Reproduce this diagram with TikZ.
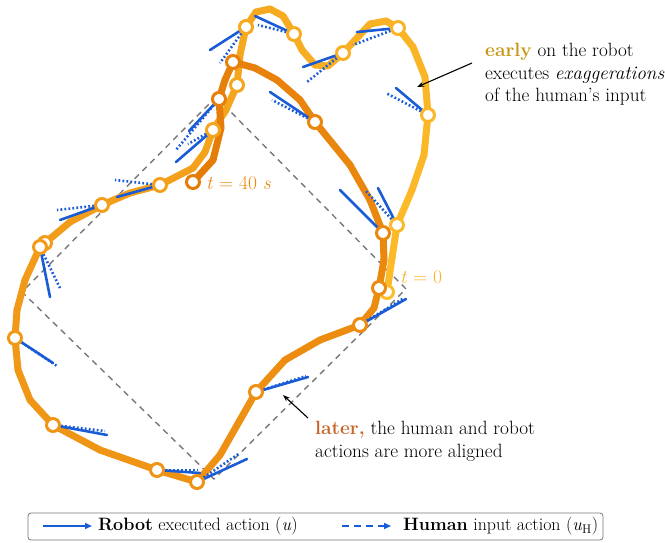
\documentclass[tikz,border=0pt]{standalone}
\usepackage{fontspec}
\setmainfont{Latin Modern Roman}
\usetikzlibrary{arrows.meta}
\definecolor{yl}{RGB}{253,188,42}
\definecolor{dk}{RGB}{230,124,8}
\definecolor{ab}{RGB}{26,92,214}
\definecolor{dg}{RGB}{120,120,120}
\definecolor{earlyc}{RGB}{200,150,20}
\definecolor{laterc}{RGB}{200,100,40}
\tikzset{
  traj/.style={line width=7pt, line cap=round, line join=round},
  mk/.style={circle, minimum size=13pt, inner sep=0pt, line width=3pt, fill=white},
  act/.style={draw=ab, line width=2.6pt, line cap=round},
  hdot/.style={draw=ab, line width=2.6pt, dash pattern=on 1.8pt off 2.2pt},
  gdash/.style={draw=dg, line width=1.4pt, dash pattern=on 6pt off 5pt},
  note/.style={align=left, font=\fontsize{19.2}{22.7}\selectfont, inner sep=0pt},
  callout/.style={-{Stealth[length=7pt,width=5pt]}, line width=1.1pt, black},
  legtext/.style={anchor=west, font=\fontsize{17.9}{18}\selectfont, inner sep=0pt},
  tlabel/.style={font=\fontsize{19.5}{20}\selectfont, anchor=west, inner sep=0pt},
}
\begin{document}
\begin{tikzpicture}[x=1pt,y=-1pt]
\useasboundingbox (0,0) rectangle (665,542);
% dashed square
\coordinate (sqT) at (216,97);
\coordinate (sqR) at (406,289);
\coordinate (sqB) at (214,479);
\coordinate (sqL) at (22,292);
\draw[gdash] (sqT) -- (sqR) -- (sqB) -- (sqL) -- cycle;
% trajectory points
\foreach \x/\y [count=\i from 0] in {387/292,392/258,397/225,412/190,424/155,428/115,425/77,413/47,398/28,386/21,370/24,343/53,328/66,315/65,302/50,294/34,283/16,270/9,256/12,246/27,240/55,237/85,226/110,213/130,205/152,193/168,160/185,130/193,102/205,70/222,45/243,40/247,25/280,17/310,15/338,18/370,30/400,53/425,100/450,157/470,197/482,220/455,240/420,256/392,285/360,320/340,360/325,374/308,379/288,384/260,383/233,370/200,350/165,315/122,300/100,277/80,255/68,233/62,225/80,219/99,221/128,213/160,193/182}
  {\coordinate (p\i) at (\x,\y);}
\foreach \i in {1,...,62}{
  \pgfmathtruncatemacro\j{\i-1}
  \pgfmathtruncatemacro\pc{round(100*\i/62)}
  \draw[traj, draw=dk!\pc!yl] (p\j) -- (p\i);
}
% actions: robot (solid) and human (dotted)
\foreach \i/\sx/\sy/\hx/\hy in {19/210/50/220/63, 15/255/16/258/25, 11/303/67/307/82, 8/357/32/353/45, 5/396/88/386/93, 53/270/92/272/100, 59/189/131/176/150, 23/176/162/188/144, 26/117/197/115/180, 28/60/220/57/210, 31/50/297/60/288, 34/53/363/57/366, 37/107/435/105/431, 39/200/473/198/470, 40/247/459/240/453, 43/308/377/306/376, 46/406/299/404/298, 2/378/188/365/190}{
  \coordinate (h\i) at (\hx,\hy);
  \coordinate (r\i) at (\sx,\sy);
  \draw[hdot] (p\i) -- (h\i);
  \draw[act] (p\i) -- (r\i);
}
\coordinate (r50) at (340,190);
\draw[act] (p50) -- (r50);
% markers
\foreach \i in {0,2,5,8,11,15,19,21,23,26,28,30,31,34,37,39,40,43,46,48,50,53,57,59,62}{
  \pgfmathtruncatemacro\pc{round(100*\i/62)}
  \node[mk, draw=dk!\pc!yl] (m\i) at (p\i) {};
}
% time labels
\node[tlabel, text=yl!85!dk] (tzero) at (400,277) {\textit{t} = 0};
\node[tlabel, text=dk!80!yl] (tend) at (206,183) {\textit{t} = 40 \textit{s}};
% annotations
\node[note, anchor=west] (early) at (485,74.5) {\textcolor{earlyc}{\textbf{early}} on the robot\\executes \emph{exaggerations}\\of the human’s input};
\coordinate (eaTail) at (472,63);
\coordinate (eaHead) at (417,87);
\draw[callout] (eaTail) -- (eaHead);
\node[note, anchor=west] (later) at (315,441.5) {\textcolor{laterc}{\textbf{later,}} the human and robot\\actions are more aligned};
\coordinate (laTail) at (308,418);
\coordinate (laHead) at (283,395);
\draw[callout] (laTail) -- (laHead);
% legend
\node[draw=dg, rounded corners=3pt, line width=0.8pt, minimum width=575pt, minimum height=27pt, inner sep=0pt] (leg) at (315.5,526.5) {};
\coordinate (la1) at (43,526);
\coordinate (la2) at (92,526);
\draw[draw=ab, line width=1.6pt, -{Triangle[length=7pt,width=6pt]}] (la1) -- (la2);
\node[legtext] (lt1) at (98,526) {\textbf{Robot} executed action (\textit{u})};
\coordinate (lb1) at (342,526);
\coordinate (lb2) at (391,526);
\draw[draw=ab, line width=1.6pt, dash pattern=on 7pt off 5pt, -{Triangle[length=7pt,width=6pt]}] (lb1) -- (lb2);
\node[legtext] (lt2) at (403,526) {\textbf{Human} input action (\textit{u}\textsubscript{H})};
\end{tikzpicture}
\end{document}
